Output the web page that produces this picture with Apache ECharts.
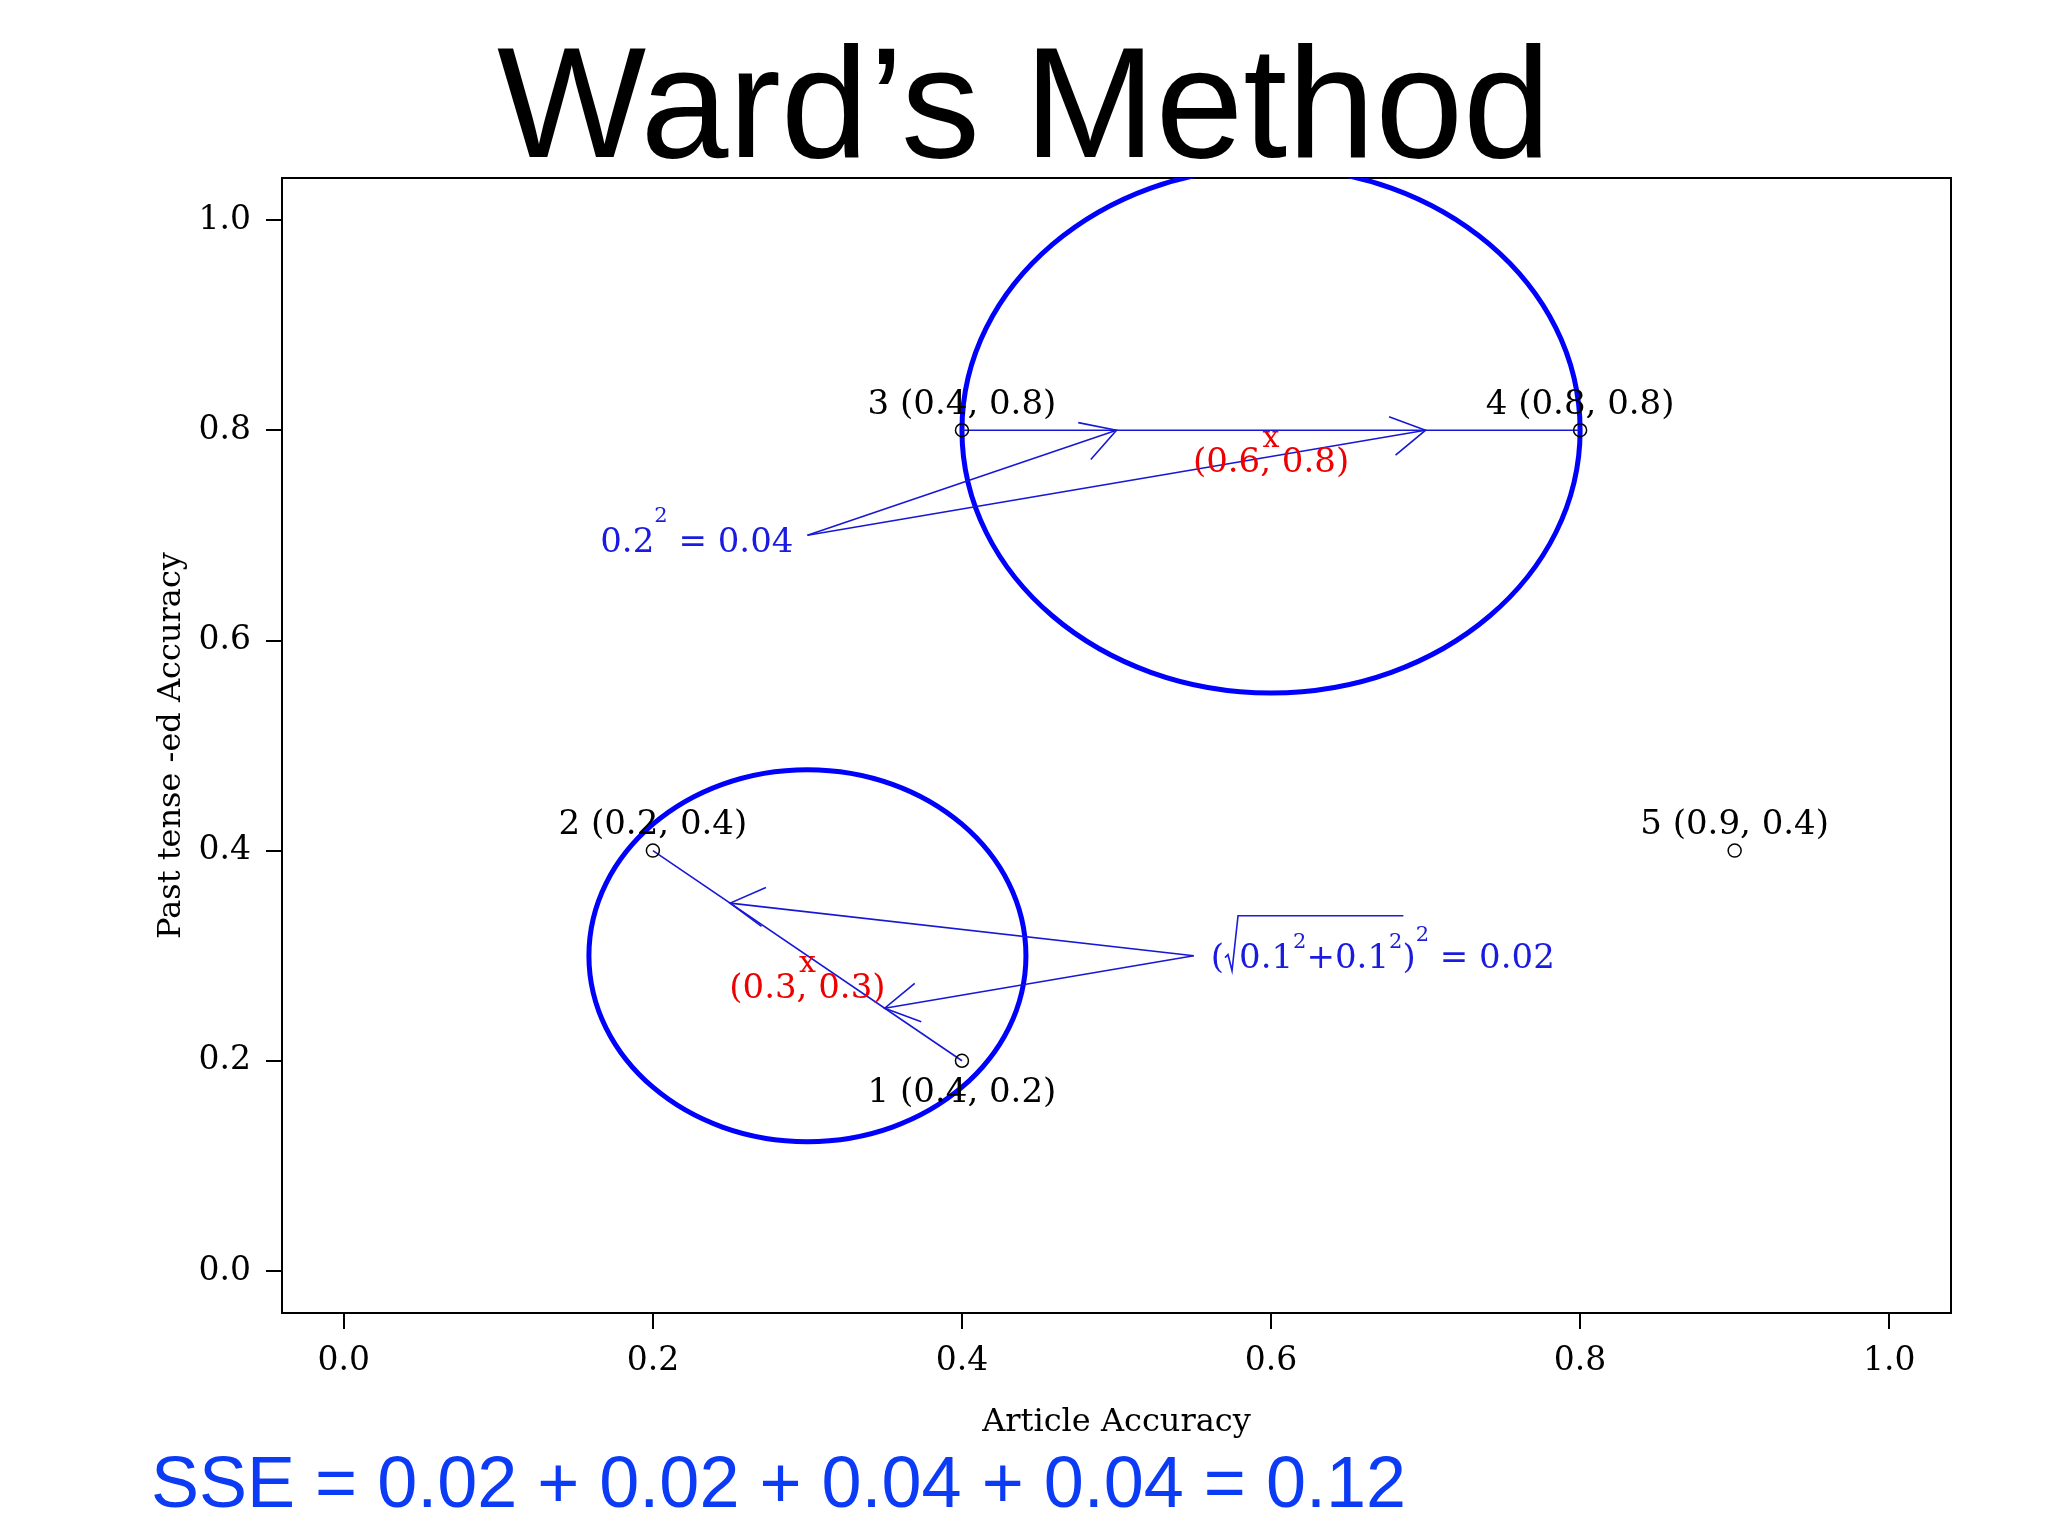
<!DOCTYPE html>
<html>
<head>
<meta charset="utf-8">
<script src="https://cdn.jsdelivr.net/npm/echarts@6/dist/echarts.min.js"></script>
<style>
html,body{margin:0;padding:0;background:#ffffff;}
#chart{width:2048px;height:1536px;}
</style>
</head>
<body>
<div id="chart"></div>
<script>
// ---------------- data ----------------
const titleText = 'Ward’s Method';
const xAxisName = 'Article Accuracy';
const yAxisName = 'Past tense -ed Accuracy';
const sseText = 'SSE = 0.02 + 0.02 + 0.04 + 0.04 = 0.12';
const tickValues = [0, 0.2, 0.4, 0.6, 0.8, 1.0];

const pointIds = [1, 2, 3, 4, 5];
const pointX = [0.4, 0.2, 0.4, 0.8, 0.9];
const pointY = [0.2, 0.4, 0.8, 0.8, 0.4];

const centroidX = [0.6, 0.3];
const centroidY = [0.8, 0.3];

const ellipseCX = [0.6, 0.3];
const ellipseCY = [0.8, 0.3];
const ellipseRX = [0.2, 0.1414];
const ellipseRY = [0.25, 0.177];

const segFromX = [0.4, 0.2];
const segFromY = [0.8, 0.4];
const segToX = [0.8, 0.4];
const segToY = [0.8, 0.2];

const arrowFromX = [0.3, 0.3, 0.55, 0.55];
const arrowFromY = [0.7, 0.7, 0.3, 0.3];
const arrowToX = [0.5, 0.7, 0.25, 0.35];
const arrowToY = [0.8, 0.8, 0.35, 0.25];

const formulaX = [0.3, 0.55];
const formulaY = [0.7, 0.3];
// formula pieces: [text, kind, overlined]
const formulaPieces = [
  [['0.2', 'n'], ['2', 's'], [' = 0.04', 'n']],
  [['(', 'n'], ['√', 'r'], ['0.1', 'n', 1], ['2', 'i', 1], ['+0.1', 'n', 1], ['2', 'i', 1], [')', 'n'], ['2', 's'], [' = 0.02', 'n']]
];

// ---------------- styles ----------------
const SERIF = '"DejaVu Serif", "Liberation Serif", serif';
const SANS = '"Liberation Sans", Arial, Helvetica, sans-serif';
const BLUE_THICK = '#0000ff';
const BLUE_LINE = '#1717d6';
const BLUE_TEXT = '#1a1ae0';
const RED = '#ee0000';
const MAIN_FS = 34;
const SUP_FS = 21;

const mctx = document.createElement('canvas').getContext('2d');
function tw(t, fs) { mctx.font = fs + 'px ' + SERIF; return mctx.measureText(t).width; }

const chart = echarts.init(document.getElementById('chart'), null, { renderer: 'canvas' });

function clipRect(params) {
  const cs = params.coordSys;
  return { type: 'rect', shape: { x: cs.x, y: cs.y, width: cs.width, height: cs.height } };
}

const option = {
  animation: false,
  backgroundColor: '#ffffff',
  grid: {
    left: 282, top: 178, width: 1669, height: 1135,
    containLabel: false,
    outerBoundsMode: 'none',
    show: true, borderColor: '#000', borderWidth: 2, backgroundColor: 'transparent'
  },
  xAxis: {
    type: 'value', min: -0.04, max: 1.04,
    name: xAxisName, nameLocation: 'middle', nameGap: 94,
    nameTextStyle: { fontFamily: SERIF, fontSize: 32, color: '#000' },
    axisLine: { show: true, onZero: false, lineStyle: { color: '#000', width: 2 } },
    axisTick: { show: true, inside: false, length: 16, customValues: tickValues, lineStyle: { color: '#000', width: 2 } },
    axisLabel: { show: true, margin: 32, customValues: tickValues, formatter: v => Number(v).toFixed(1),
      fontFamily: SERIF, fontSize: 33, color: '#000' },
    splitLine: { show: false }
  },
  yAxis: {
    type: 'value', min: -0.04, max: 1.04,
    name: yAxisName, nameLocation: 'middle', nameGap: 92, nameRotate: 90,
    nameTextStyle: { fontFamily: SERIF, fontSize: 32, color: '#000' },
    axisLine: { show: true, onZero: false, lineStyle: { color: '#000', width: 2 } },
    axisTick: { show: true, inside: false, length: 16, customValues: tickValues, lineStyle: { color: '#000', width: 2 } },
    axisLabel: { show: true, margin: 31, customValues: tickValues, formatter: v => Number(v).toFixed(1),
      fontFamily: SERIF, fontSize: 33, color: '#000' },
    splitLine: { show: false }
  },
  graphic: [
    { type: 'text', left: 'center', top: 34,
      style: { text: titleText, font: '158px ' + SANS, fill: '#000' } },
    { type: 'text', left: 151, top: 1451,
      style: { text: sseText, font: '72px ' + SANS, fill: '#0b3bf5' } }
  ],
  series: [
    {
      type: 'custom', name: 'ellipses', z: 2,
      data: ellipseCX.map((cx, i) => [cx, ellipseCY[i], ellipseRX[i], ellipseRY[i]]),
      encode: { x: 0, y: 1 },
      renderItem: function (params, api) {
        const c = api.coord([api.value(0), api.value(1)]);
        const s = api.size([api.value(2), api.value(3)]);
        return {
          type: 'group',
          clipPath: clipRect(params),
          children: [{
            type: 'ellipse',
            shape: { cx: c[0], cy: c[1], rx: s[0], ry: s[1] },
            style: { fill: null, stroke: BLUE_THICK, lineWidth: 5 }
          }]
        };
      }
    },
    {
      type: 'custom', name: 'segments', z: 3,
      data: segFromX.map((x, i) => [x, segFromY[i], segToX[i], segToY[i]]),
      encode: { x: [0, 2], y: [1, 3] },
      renderItem: function (params, api) {
        const a = api.coord([api.value(0), api.value(1)]);
        const b = api.coord([api.value(2), api.value(3)]);
        return { type: 'line', shape: { x1: a[0], y1: a[1], x2: b[0], y2: b[1] },
          style: { stroke: BLUE_LINE, lineWidth: 1.6 } };
      }
    },
    {
      type: 'custom', name: 'arrows', z: 3,
      data: arrowFromX.map((x, i) => [x, arrowFromY[i], arrowToX[i], arrowToY[i]]),
      encode: { x: [0, 2], y: [1, 3] },
      renderItem: function (params, api) {
        const a = api.coord([api.value(0), api.value(1)]);
        const b = api.coord([api.value(2), api.value(3)]);
        const ang = Math.atan2(a[1] - b[1], a[0] - b[0]);
        const L = 39, d = Math.PI / 6;
        const h1 = [b[0] + L * Math.cos(ang + d), b[1] + L * Math.sin(ang + d)];
        const h2 = [b[0] + L * Math.cos(ang - d), b[1] + L * Math.sin(ang - d)];
        return {
          type: 'group',
          children: [
            { type: 'line', shape: { x1: a[0], y1: a[1], x2: b[0], y2: b[1] },
              style: { stroke: BLUE_LINE, lineWidth: 1.6 } },
            { type: 'polyline', shape: { points: [h1, b, h2] },
              style: { stroke: BLUE_LINE, lineWidth: 1.6, fill: null } }
          ]
        };
      }
    },
    {
      type: 'custom', name: 'formulas', z: 4,
      data: formulaX.map((x, i) => [x, formulaY[i]]),
      encode: { x: 0, y: 1 },
      renderItem: function (params, api) {
        const idx = params.dataIndex;
        const p = api.coord([api.value(0), api.value(1)]);
        const pieces = formulaPieces[idx];
        const RAD_W = 15;
        const widths = pieces.map(pc => pc[1] === 'r' ? RAD_W : tw(pc[0], pc[1] === 'n' ? MAIN_FS : SUP_FS));
        const total = widths.reduce((s, w) => s + w, 0);
        const rightAligned = idx === 0;
        let x = rightAligned ? p[0] - 14 - total : p[0] + 17;
        const cy = p[1] + (rightAligned ? 8 : 3);
        const children = [];
        let overStart = null, overEnd = null, radX = null;
        const overY = cy - 43;
        pieces.forEach((pc, k) => {
          const kind = pc[1];
          if (kind === 'r') {
            radX = x;
          } else {
            const fs = kind === 'n' ? MAIN_FS : SUP_FS;
            const dy = kind === 'n' ? 0 : (kind === 'i' ? -16 : (rightAligned ? -27 : -23));
            children.push({ type: 'text', x: x, y: cy + dy,
              style: { text: pc[0], font: fs + 'px ' + SERIF, fill: BLUE_TEXT,
                align: 'left', verticalAlign: 'middle', textAlign: 'left', textVerticalAlign: 'middle' } });
            if (pc[2]) { if (overStart === null) overStart = x; overEnd = x + widths[k]; }
          }
          x += widths[k];
        });
        if (radX !== null) {
          const base = cy + 12;
          children.push({ type: 'polyline',
            shape: { points: [[radX + 1, base - 13], [radX + 4, base - 16], [radX + 8, base], [radX + 14, overY], [overEnd + 1, overY]] },
            style: { stroke: BLUE_TEXT, lineWidth: 1.6, fill: null } });
        }
        return { type: 'group', children: children };
      }
    },
    {
      type: 'custom', name: 'centroids', z: 5,
      data: centroidX.map((x, i) => [x, centroidY[i]]),
      encode: { x: 0, y: 1 },
      renderItem: function (params, api) {
        const vx = api.value(0), vy = api.value(1);
        const p = api.coord([vx, vy]);
        return {
          type: 'group',
          children: [
            { type: 'text', x: p[0], y: p[1] + 9,
              style: { text: 'x', font: '30px ' + SERIF, fill: RED,
                align: 'center', verticalAlign: 'middle', textAlign: 'center', textVerticalAlign: 'middle' } },
            { type: 'text', x: p[0], y: p[1] + 33,
              style: { text: '(' + vx.toFixed(1) + ', ' + vy.toFixed(1) + ')', font: MAIN_FS + 'px ' + SERIF, fill: RED,
                align: 'center', verticalAlign: 'middle', textAlign: 'center', textVerticalAlign: 'middle' } }
          ]
        };
      }
    },
    {
      type: 'scatter', name: 'points', z: 6,
      symbol: 'circle', symbolSize: 13,
      itemStyle: { color: 'rgba(255,255,255,0)', borderColor: '#000', borderWidth: 1.5, opacity: 1 },
      label: {
        show: true, fontFamily: SERIF, fontSize: MAIN_FS, color: '#000', opacity: 1, textBorderWidth: 0,
        formatter: p => pointIds[p.dataIndex] + ' (' + pointX[p.dataIndex].toFixed(1) + ', ' + pointY[p.dataIndex].toFixed(1) + ')'
      },
      emphasis: { disabled: true },
      data: pointX.map((x, i) => ({ value: [x, pointY[i]],
        label: i === 0 ? { position: 'bottom', distance: 8 } : { position: 'top', distance: 1 } }))
    }
  ]
};
chart.setOption(option);
</script>
</body>
</html>
